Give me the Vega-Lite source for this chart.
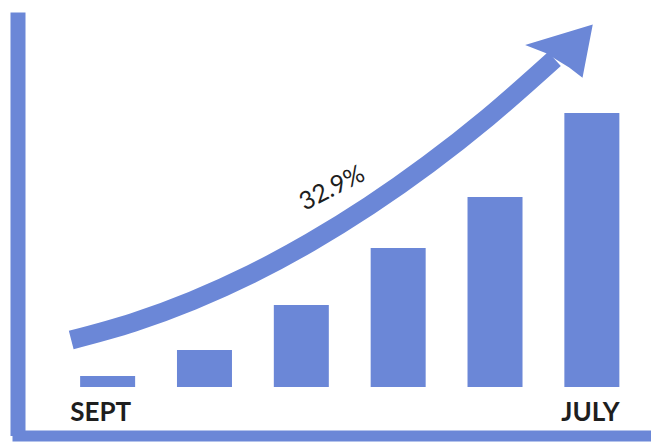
{
  "$schema": "https://vega.github.io/schema/vega-lite/v6.json",
  "width": 633.5,
  "height": 423.5,
  "autosize": {"type": "none"},
  "padding": {"left": 17.5, "top": 12, "right": 0, "bottom": 7.5},
  "background": "white",
  "config": {"view": {"stroke": null}},
  "datasets": {
    "bars": [
      {"month": 1, "value": 4.0},
      {"month": 2, "value": 13.5},
      {"month": 3, "value": 29.9},
      {"month": 4, "value": 50.7},
      {"month": 5, "value": 69.3},
      {"month": 6, "value": 100}
    ],
    "arrow": [
      {"x": 0.624, "y": 17.15},
      {"x": 1.264, "y": 23.54},
      {"x": 1.874, "y": 31.50},
      {"x": 2.484, "y": 41.24},
      {"x": 3.093, "y": 52.81},
      {"x": 3.703, "y": 66.17},
      {"x": 4.313, "y": 81.31},
      {"x": 4.923, "y": 98.28},
      {"x": 5.614, "y": 119.71}
    ],
    "head": [{"x": 5.66, "y": 122.99}],
    "pct": [{"x": 3.317, "y": 72.63, "label": "32.9%"}],
    "labels": [
      {"x": 0.929, "y": -12.3, "label": "SEPT"},
      {"x": 5.985, "y": -12.3, "label": "JULY"}
    ]
  },
  "layer": [
    {
      "data": {"name": "bars"},
      "mark": {"type": "bar", "size": 55, "color": "#6b87d7"},
      "encoding": {
        "x": {
          "field": "month", "type": "quantitative",
          "scale": {"domain": [0.121, 6.559], "nice": false, "zero": false},
          "axis": {"labels": false, "ticks": false, "grid": false, "title": null,
                   "domainColor": "#6b87d7", "domainWidth": 11, "domainCap": "square"}
        },
        "y": {
          "field": "value", "type": "quantitative",
          "scale": {"domain": [-17.70, 136.86], "nice": false, "zero": false},
          "axis": {"labels": false, "ticks": false, "grid": false, "title": null,
                   "domainColor": "#6b87d7", "domainWidth": 15}
        }
      }
    },
    {
      "data": {"name": "arrow"},
      "mark": {"type": "line", "interpolate": "monotone", "strokeWidth": 19, "strokeCap": "butt", "color": "#6b87d7"},
      "encoding": {
        "x": {"field": "x", "type": "quantitative"},
        "y": {"field": "y", "type": "quantitative"}
      }
    },
    {
      "data": {"name": "head"},
      "mark": {"type": "point", "filled": true, "opacity": 1, "size": 6724, "strokeWidth": 0, "color": "#6b87d7",
               "shape": "M0.825,-0.625L-0.825,-0.125L-0.325,0.075L0.25,0.425L0.575,0.675Z"},
      "encoding": {
        "x": {"field": "x", "type": "quantitative"},
        "y": {"field": "y", "type": "quantitative"}
      }
    },
    {
      "data": {"name": "pct"},
      "mark": {"type": "text", "angle": 333, "align": "center", "baseline": "middle", "font": "Lato", "fontSize": 25, "color": "#1e1e1e"},
      "encoding": {
        "x": {"field": "x", "type": "quantitative"},
        "y": {"field": "y", "type": "quantitative"},
        "text": {"field": "label"}
      }
    },
    {
      "data": {"name": "labels"},
      "mark": {"type": "text", "align": "center", "baseline": "alphabetic", "font": "Lato", "fontWeight": "bold", "fontSize": 26, "color": "#1e1e1e"},
      "encoding": {
        "x": {"field": "x", "type": "quantitative"},
        "y": {"field": "y", "type": "quantitative"},
        "text": {"field": "label"}
      }
    }
  ]
}
